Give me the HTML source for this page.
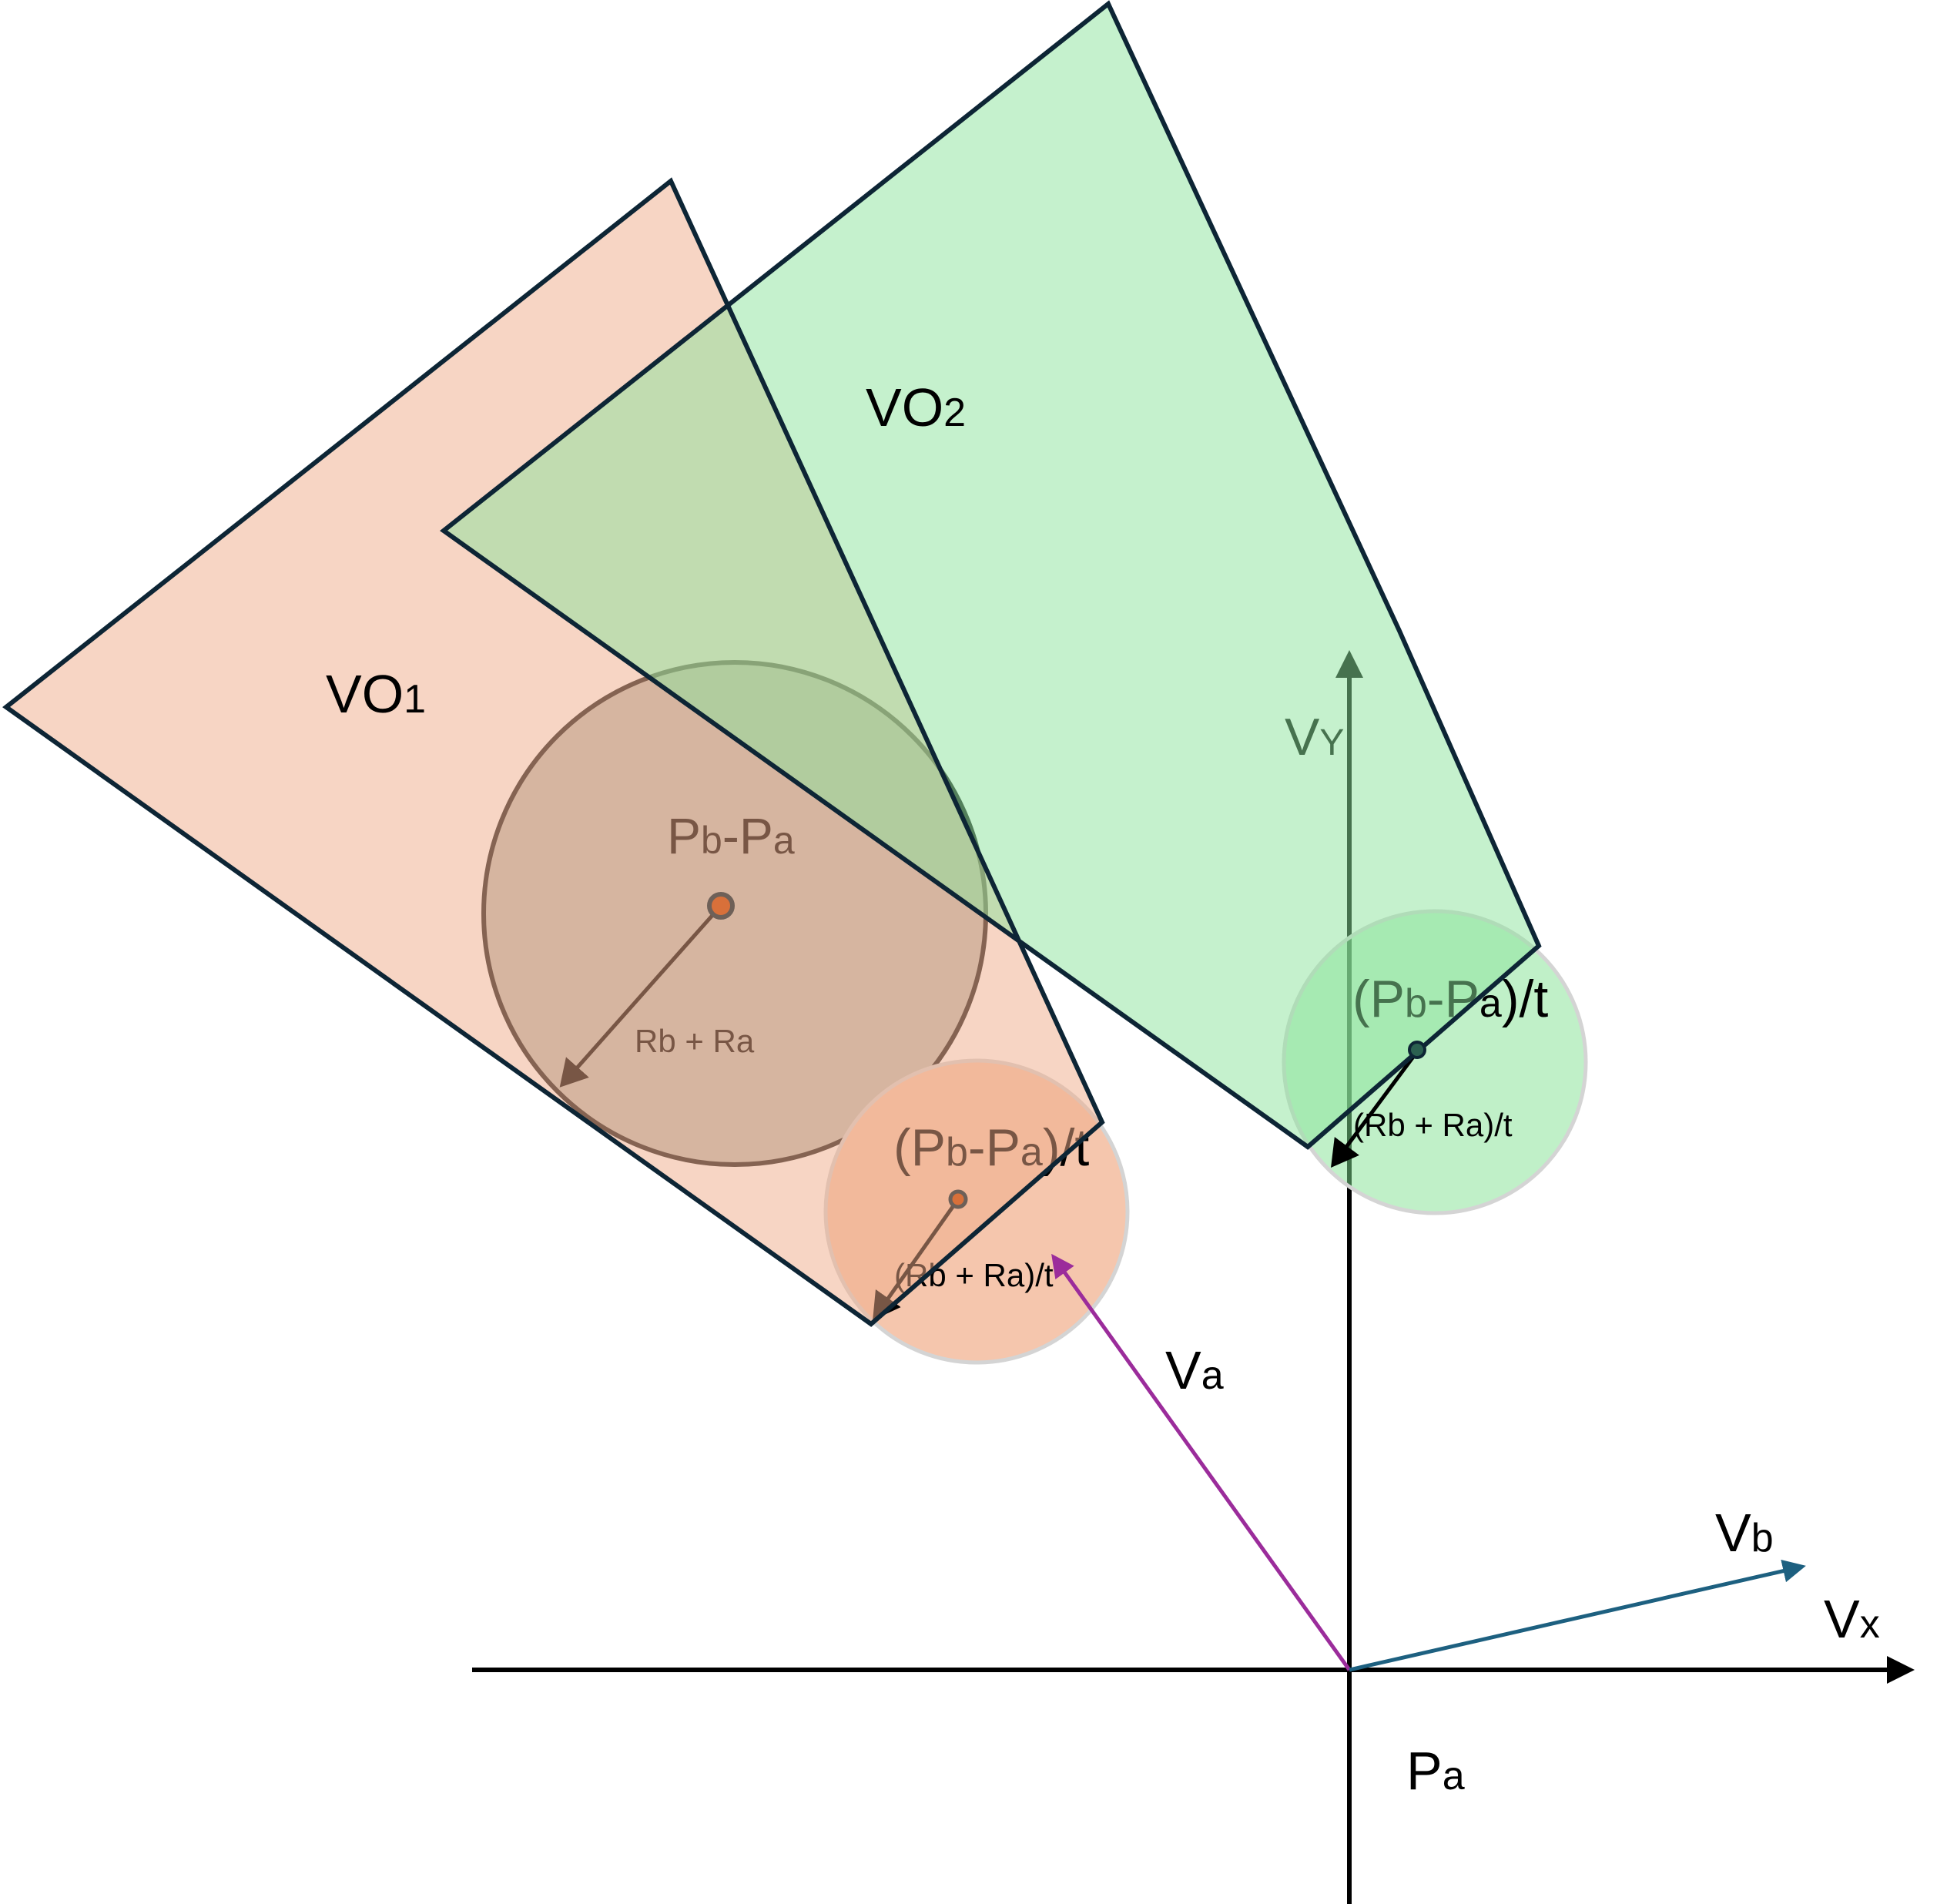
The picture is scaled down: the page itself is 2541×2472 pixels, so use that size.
<!DOCTYPE html>
<html><head><meta charset="utf-8"><style>html,body{margin:0;padding:0;background:#fff}svg{display:block}text{font-family:"Liberation Sans",sans-serif;fill:#000}</style></head>
<body>
<svg width="2541" height="2472" viewBox="0 0 2541 2472" xmlns="http://www.w3.org/2000/svg">
<defs>
<marker id="ak" markerWidth="8" markerHeight="8" refX="6" refY="4" orient="auto" markerUnits="strokeWidth"><path d="M0,0 L7,4 L0,8 Z" fill="#000"/></marker>
<marker id="ap" markerWidth="6" markerHeight="6" refX="5" refY="3" orient="auto" markerUnits="strokeWidth"><path d="M0,0 L6,3 L0,6 Z" fill="#9b2c9b"/></marker>
<marker id="av" markerWidth="6" markerHeight="6" refX="5" refY="3" orient="auto" markerUnits="strokeWidth"><path d="M0,0 L6,3 L0,6 Z" fill="#1d6080"/></marker>
<marker id="ax" markerWidth="6" markerHeight="6" refX="5" refY="3" orient="auto" markerUnits="strokeWidth"><path d="M0,0 L6,3 L0,6 Z" fill="#000"/></marker>
</defs>
<line x1="613" y1="2168" x2="2480" y2="2168" stroke="#000" stroke-width="6" marker-end="url(#ax)"/>
<line x1="1752" y1="2472" x2="1752" y2="850" stroke="#000" stroke-width="6" marker-end="url(#ax)"/>
<circle cx="954" cy="1186" r="326" fill="rgb(189,191,183)" stroke="#1a1a1a" stroke-width="6"/>
<circle cx="1268" cy="1573" r="196" fill="#f5c6ad" stroke="#d4d4d4" stroke-width="5"/>
<circle cx="1863" cy="1379" r="196" fill="rgba(129,225,145,0.5)" stroke="#d4d4d4" stroke-width="5"/>
<line x1="936" y1="1176" x2="730" y2="1408" stroke="#000" stroke-width="5" marker-end="url(#ak)"/>
<line x1="1244" y1="1557" x2="1136" y2="1710" stroke="#000" stroke-width="5" marker-end="url(#ak)"/>
<line x1="1841" y1="1364" x2="1731" y2="1512" stroke="#000" stroke-width="5" marker-end="url(#ak)"/>
<text x="866" y="1108" font-size="66">P<tspan font-size="50">b</tspan>-P<tspan font-size="50">a</tspan></text>
<text x="824" y="1366" font-size="42">Rb + Ra</text>
<text x="1160" y="1513" font-size="68">(P<tspan font-size="52">b</tspan>-P<tspan font-size="52">a</tspan>)/t</text>
<text x="1161" y="1670" font-size="42">(Rb + Ra)/t</text>
<text x="1756" y="1320" font-size="68">(P<tspan font-size="52">b</tspan>-P<tspan font-size="52">a</tspan>)/t</text>
<text x="1757" y="1475" font-size="42">(Rb + Ra)/t</text>
<text x="1668" y="980" font-size="68">V<tspan font-size="48">Y</tspan></text>
<polygon points="8,918 871,235 1431,1457 1131,1719" fill="rgba(239,171,137,0.5)"/>
<polygon points="576,689 1439,5 1817,819 1998,1228 1698,1489" fill="rgba(140,228,155,0.5)"/>
<polygon points="8,918 871,235 1431,1457 1131,1719" fill="none" stroke="#0d2535" stroke-width="6"/>
<polygon points="576,689 1439,5 1817,819 1998,1228 1698,1489" fill="none" stroke="#0d2535" stroke-width="6"/>
<circle cx="936" cy="1176" r="15" fill="#d8703a" stroke="#6e6058" stroke-width="6"/>
<circle cx="1244" cy="1557" r="10" fill="#d8703a" stroke="#6e6058" stroke-width="5"/>
<circle cx="1840" cy="1363" r="10" fill="#2b6050" stroke="#0d2535" stroke-width="4"/>
<text x="423" y="925" font-size="70">VO<tspan font-size="52">1</tspan></text>
<text x="1124" y="553" font-size="70">VO<tspan font-size="52">2</tspan></text>
<line x1="1752" y1="2168" x2="1368" y2="1632" stroke="#9b2c9b" stroke-width="5" marker-end="url(#ap)"/>
<line x1="1752" y1="2168" x2="2340" y2="2034" stroke="#1d6080" stroke-width="5" marker-end="url(#av)"/>
<text x="1513" y="1803" font-size="70">V<tspan font-size="52">a</tspan></text>
<text x="2227" y="2014" font-size="70">V<tspan font-size="52">b</tspan></text>
<text x="2368" y="2126" font-size="70">V<tspan font-size="52">x</tspan></text>
<text x="1826" y="2323" font-size="70">P<tspan font-size="52">a</tspan></text>
</svg>
</body></html>
